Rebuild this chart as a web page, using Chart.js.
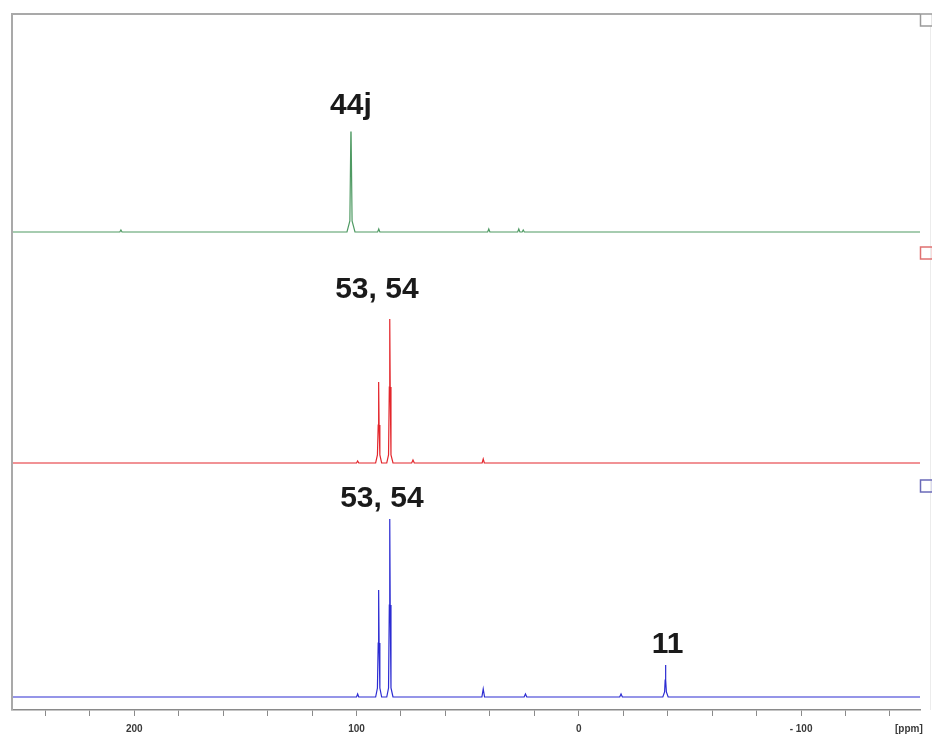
<!DOCTYPE html>
<html>
<head>
<meta charset="utf-8">
<script src="https://cdn.jsdelivr.net/npm/chart.js@4/dist/chart.umd.min.js"></script>
<style>
  html, body { margin: 0; padding: 0; background: #fff; }
  #wrap { width: 932px; height: 735px; position: relative; }
</style>
</head>
<body>
<div id="wrap"><canvas id="nmr"></canvas></div>
<script>
// chemical shift window, ppm (high field to the right)
const ppmMax = 255;
const ppmMin = -153.5;
const tickText = { "200": "200", "100": "100", "0": "0", "-100": "- 100" };

// top trace
const greenPpm = [255, 206.5, 206, 205.5, 104.3, 103.0, 102.55, 102.45, 102.0, 100.7, 90.5, 90, 89.5, 41, 40.5, 40, 27.5, 27, 26.5, 25.5, 25, 24.5, -153.5];
const greenInt = [0, 0, 2, 0, 0, 11, 100, 100, 11, 0, 0, 3, 0, 0, 3, 0, 0, 3, 0, 0, 2, 0, 0];

// middle trace
const redPpm = [255, 100, 99.5, 99, 91.4, 90.6, 90.25, 90.05, 89.85, 89.5, 88.7, 86.4, 85.6, 85.25, 85.05, 84.85, 84.5, 83.6, 75.2, 74.6, 74, 43.5, 43, 42.5, -153.5];
const redInt = [0, 0, 2, 0, 0, 8, 38, 81, 38, 8, 0, 0, 8, 76, 144, 76, 8, 0, 0, 3, 0, 0, 4, 0, 0];

// bottom trace
const bluePpm = [255, 100, 99.5, 99, 91.4, 90.6, 90.25, 90.05, 89.85, 89.5, 88.7, 86.4, 85.6, 85.25, 85.05, 84.85, 84.5, 83.6, 43.6, 43, 42.4, 24.6, 24, 23.4, -18.4, -19, -19.6, -37.8, -38.6, -38.85, -39.0, -39.15, -39.4, -40.2, -153.5];
const blueInt = [0, 0, 3, 0, 0, 9, 54, 107, 54, 9, 0, 0, 9, 92, 178, 92, 9, 0, 0, 8, 0, 0, 3, 0, 0, 3, 0, 0, 5, 17, 32, 17, 5, 0, 0];

// peak assignments
const peakText = ["44j", "53, 54", "53, 54", "11"];
const peakPpm = [102.5, 85, 85, -39];
const peakAxis = ["yTop", "yMid", "yBot", "yBot"];
const peakTop = [100, 144, 178, 32];

function toPoints(ppm, intensity) {
  return ppm.map((x, i) => ({ x: x, y: intensity[i] }));
}

// label offsets from the peak tip (px)
const labelShift = [
  { dx: 0, dy: -18 },
  { dx: -13, dy: -21 },
  { dx: -8, dy: -12 },
  { dx: 2, dy: -12 },
];

const frameAndLabels = {
  id: "frameAndLabels",
  afterDraw(chart) {
    const ctx = chart.ctx;
    const a = chart.chartArea;
    const xs = chart.scales.x;
    ctx.save();

    // frame: top and left edges
    ctx.strokeStyle = "#a9a9a9";
    ctx.lineWidth = 2;
    ctx.beginPath();
    ctx.moveTo(a.left, a.bottom);
    ctx.lineTo(a.left, a.top);
    ctx.lineTo(a.right, a.top);
    ctx.stroke();

    ctx.strokeStyle = "#ececec";
    ctx.lineWidth = 1;
    ctx.beginPath();
    ctx.moveTo(a.right + 10.5, a.top + 12);
    ctx.lineTo(a.right + 10.5, a.bottom);
    ctx.stroke();

    // trace boxes at the right margin
    const boxes = [
      { axis: "yTop", color: "#9a9a9a" },
      { axis: "yMid", color: "#e07070" },
      { axis: "yBot", color: "#6a6ab8" },
    ];
    ctx.lineWidth = 1.5;
    boxes.forEach((b, i) => {
      const s = chart.scales[b.axis];
      const top = i === 0 ? s.top : s.top + 14;
      ctx.strokeStyle = b.color;
      ctx.strokeRect(a.right + 0.5, top, 12, 12);
    });

    // peak labels
    ctx.fillStyle = "#1a1a1a";
    ctx.font = "bold 30px 'Liberation Sans', Arial, sans-serif";
    ctx.textAlign = "center";
    ctx.textBaseline = "alphabetic";
    peakText.forEach((t, i) => {
      const px = xs.getPixelForValue(peakPpm[i]) + labelShift[i].dx;
      const py = chart.scales[peakAxis[i]].getPixelForValue(peakTop[i]) + labelShift[i].dy;
      ctx.fillText(t, px, py);
    });

    // unit label
    ctx.fillStyle = "#3a3a3a";
    ctx.font = "bold 10px 'Liberation Sans', Arial, sans-serif";
    ctx.textAlign = "center";
    ctx.textBaseline = "middle";
    ctx.fillText("[ppm]", xs.getPixelForValue(-148.5), 729);
    ctx.restore();
  },
};

new Chart(document.getElementById("nmr"), {
  type: "line",
  data: {
    datasets: [
      { data: toPoints(greenPpm, greenInt), yAxisID: "yTop", borderColor: "#4f9a63" },
      { data: toPoints(redPpm, redInt), yAxisID: "yMid", borderColor: "#e3262c" },
      { data: toPoints(bluePpm, blueInt), yAxisID: "yBot", borderColor: "#2c2cd2" },
    ],
  },
  options: {
    responsive: true,
    maintainAspectRatio: false,
    animation: false,
    layout: { padding: { left: 12, top: 14, right: 12, bottom: -7 } },
    elements: {
      line: { borderWidth: 1.2, tension: 0 },
      point: { radius: 0 },
    },
    plugins: {
      legend: { display: false },
      tooltip: { enabled: false },
    },
    scales: {
      x: {
        type: "linear",
        reverse: true,
        min: ppmMin,
        max: ppmMax,
        border: { display: true, color: "#8a8a8a", width: 1.5 },
        grid: { drawOnChartArea: false, drawTicks: true, tickLength: 6, color: "#8a8a8a" },
        ticks: {
          stepSize: 20,
          includeBounds: false,
          autoSkip: false,
          maxRotation: 0,
          padding: 7,
          color: "#3a3a3a",
          font: { family: "'Liberation Sans', Arial, sans-serif", size: 10, weight: "bold" },
          callback: (v) => tickText[String(v)] || "",
        },
      },
      // stacked panels: the first one listed ends up at the bottom
      yBot: { stack: "traces", stackWeight: 244, min: -13, max: 231, display: false },
      yMid: { stack: "traces", stackWeight: 233, min: -3, max: 230, display: false },
      yTop: { stack: "traces", stackWeight: 219, min: -1, max: 218, display: false },
    },
  },
  plugins: [frameAndLabels],
});
</script>
</body>
</html>
